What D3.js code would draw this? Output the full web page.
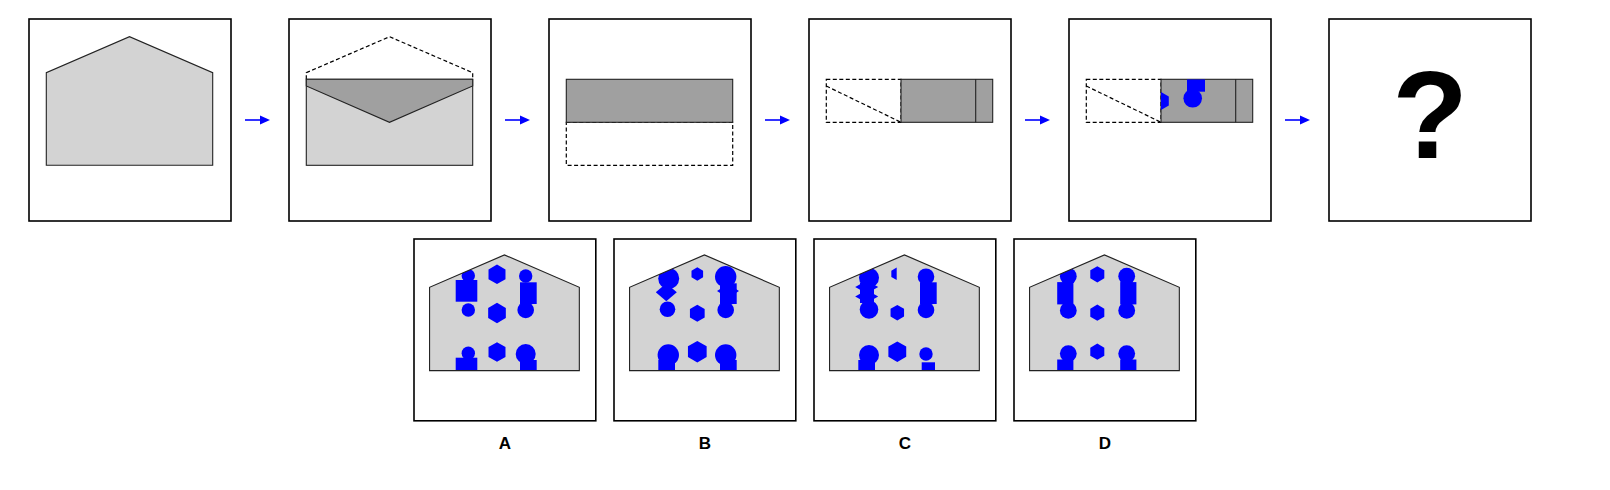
<!DOCTYPE html>
<html><head><meta charset="utf-8">
<script src="https://cdn.jsdelivr.net/npm/d3@7"></script>
<style>html,body{margin:0;padding:0;background:#fff}</style>
</head><body>
<svg id="c" width="1610" height="490"></svg>
<script>
// ---------- data (panel units: top panel box = 202 units) ----------
const steps = ["house", "open", "foldUp", "foldLeft", "cut", "question"];
const houseOutline = [[17.3,146.3],[17.3,53.7],[100.5,17.7],[183.7,53.7],[183.7,146.3]];
const roofDashed = [[17.3,60.3],[17.3,53.7],[100.5,17.7],[183.7,53.7],[183.7,60.3]];
const envelopeBody = [[17.3,60.3],[183.7,146.3]];
const envelopeFlap = [[17.3,60.3],[183.7,60.3],[183.7,67],[100.5,103.3],[17.3,67]];
const upperHalf = [[17.3,60.3],[183.7,103.3]];
const lowerHalf = [[17.3,103.3],[183.7,146.3]];
const leftPart = [[17.3,60.3],[92,103.3]];
const rightPart = [[92,60.3],[183.7,103.3]];
const leftDiagonal = [[17.3,67],[92,103.3]];
const foldEdgeX = [166.7];
const cutHexes = [{cx:92, cy:82, r:9}];
const cutCircles = [{cx:123.7, cy:79.3, r:9.3}];
const cutRects = [{x0:118, x1:136, y0:60.3, y1:72.7}];
const questionText = ["?"];

// ---------- answer options (option pixel units, box = 181.8) ----------
const options = ["A", "B", "C", "D"];
const optHexes = [
  {opt:"A", cx:83, cy:35.3, r:9.8}, {opt:"A", cx:83, cy:74, r:10.2}, {opt:"A", cx:83, cy:113, r:9.8},
  {opt:"B", cx:83.3, cy:35, r:6.7}, {opt:"B", cx:83.3, cy:74.3, r:8.5}, {opt:"B", cx:83.3, cy:112.7, r:10.8},
  {opt:"C", cx:82.7, cy:34.8, r:6.2, half:"left"}, {opt:"C", cx:83.3, cy:73.7, r:7.8}, {opt:"C", cx:83.3, cy:112.7, r:10.3},
  {opt:"D", cx:83.3, cy:35.3, r:8.1}, {opt:"D", cx:83.3, cy:73.7, r:8.1}, {opt:"D", cx:83.3, cy:112.7, r:8.1}
];
const optCircles = [
  {opt:"A", cx:54.3, cy:36.7, r:6.7}, {opt:"A", cx:54.3, cy:71, r:6.7}, {opt:"A", cx:54.3, cy:114.3, r:6.7},
  {opt:"A", cx:111.7, cy:37, r:6.7}, {opt:"A", cx:111.7, cy:71, r:8.3}, {opt:"A", cx:111.7, cy:115, r:10},
  {opt:"B", cx:54.7, cy:39.5, r:10.5}, {opt:"B", cx:53.5, cy:70.3, r:7.8}, {opt:"B", cx:54.3, cy:116, r:10.7},
  {opt:"B", cx:111.7, cy:37.7, r:10.7}, {opt:"B", cx:111.7, cy:71, r:8.3}, {opt:"B", cx:111.7, cy:116, r:10.7},
  {opt:"C", cx:55, cy:38.7, r:10}, {opt:"C", cx:55, cy:70.5, r:9.3}, {opt:"C", cx:55, cy:116, r:10},
  {opt:"C", cx:112, cy:37.7, r:8.3}, {opt:"C", cx:112, cy:71, r:8.3}, {opt:"C", cx:112, cy:115, r:6.7},
  {opt:"D", cx:54.3, cy:37.2, r:8.4}, {opt:"D", cx:54.3, cy:71.4, r:8.4}, {opt:"D", cx:54.3, cy:114.6, r:8.4},
  {opt:"D", cx:112.7, cy:37.2, r:8.4}, {opt:"D", cx:112.7, cy:71.4, r:8.4}, {opt:"D", cx:112.7, cy:114.6, r:8.4}
];
const optRects = [
  {opt:"A", x0:41.7, x1:63.3, y0:41, y1:62.7}, {opt:"A", x0:41.7, x1:63.3, y0:118.7, y1:132},
  {opt:"A", x0:106, x1:122.7, y0:43.3, y1:65}, {opt:"A", x0:106, x1:122.7, y0:121, y1:132},
  {opt:"B", x0:106, x1:122.7, y0:44.3, y1:65}, {opt:"B", x0:44.3, x1:61, y0:121, y1:132},
  {opt:"B", x0:106, x1:122.7, y0:121, y1:132},
  {opt:"C", x0:46, x1:60, y0:44, y1:64}, {opt:"C", x0:106, x1:122.7, y0:43.3, y1:65},
  {opt:"C", x0:44.3, x1:61, y0:121, y1:132}, {opt:"C", x0:107.7, x1:121, y0:123.3, y1:132},
  {opt:"D", x0:43.2, x1:59.4, y0:43.1, y1:65.4}, {opt:"D", x0:106.2, x1:122.4, y0:43.1, y1:65.4},
  {opt:"D", x0:43.2, x1:59.4, y0:120.5, y1:132}, {opt:"D", x0:106.2, x1:122.4, y0:120.5, y1:132}
];
const optDiamonds = [
  {opt:"B", cx:52.3, cy:53.3, hx:10.5, hy:9}, {opt:"B", cx:114, cy:52, hx:11, hy:7},
  {opt:"C", cx:52.7, cy:48, hx:11.5, hy:6.5}, {opt:"C", cx:52.7, cy:57.5, hx:11.5, hy:6.5}
];

// ---------- styles ----------
const LIGHT = "#d3d3d3", DARK = "#a0a0a0", BLUE = "#0000ff", LINE = "#222";
const DASH = "4,2.5";
const FONT = "'Liberation Sans', Arial, Helvetica, sans-serif";

const svg = d3.select("#c");
svg.append("rect").attr("width",1610).attr("height",490).attr("fill","#fff");

const stepX = d3.scaleLinear().domain([0, steps.length - 1]).range([29, 29 + 260 * (steps.length - 1)]);
const optX = d3.scaleLinear().domain([0, options.length - 1]).range([414, 414 + 200 * (options.length - 1)]);
const TOP_Y = 19, TOP_SIZE = 202, OPT_Y = 239, OPT_SIZE = 181.8;

const line = d3.line();
function hexPath(h, sx, sy) {
  let idx = h.half === "left" ? [0, 5, 4, 3] : [0,1,2,3,4,5];
  const pts = idx.map(k => {
    const a = (-90 + 60 * k) * Math.PI / 180;
    return [sx(h.cx + h.r * Math.cos(a)), sy(h.cy + h.r * Math.sin(a))];
  });
  return line(pts) + "Z";
}
function diamondPath(d, sx, sy) {
  return line([[sx(d.cx), sy(d.cy - d.hy)], [sx(d.cx + d.hx), sy(d.cy)], [sx(d.cx), sy(d.cy + d.hy)], [sx(d.cx - d.hx), sy(d.cy)]]) + "Z";
}
function rectFrom(g, corners, sx, sy) {
  return g.append("rect")
    .attr("x", sx(corners[0][0])).attr("y", sy(corners[0][1]))
    .attr("width", sx(corners[1][0]) - sx(corners[0][0]))
    .attr("height", sy(corners[1][1]) - sy(corners[0][1]));
}
const defs = svg.append("defs");

// ---------- top row ----------
steps.forEach((step, i) => {
  const x0 = stepX(i);
  const sx = d3.scaleLinear().domain([0, TOP_SIZE]).range([x0, x0 + TOP_SIZE]);
  const sy = d3.scaleLinear().domain([0, TOP_SIZE]).range([TOP_Y, TOP_Y + TOP_SIZE]);
  const g = svg.append("g");
  g.append("rect").attr("x", sx(0)).attr("y", sy(0)).attr("width", TOP_SIZE).attr("height", TOP_SIZE)
    .attr("fill", "#fff").attr("stroke", "#000").attr("stroke-width", 1.6);
  const toPts = arr => arr.map(p => [sx(p[0]), sy(p[1])]);

  if (step === "house") {
    g.append("path").attr("d", line(toPts(houseOutline)) + "Z").attr("fill", LIGHT).attr("stroke", LINE).attr("stroke-width", 1.1);
  } else if (step === "open") {
    g.append("path").attr("d", line(toPts(roofDashed))).attr("fill", "none").attr("stroke", "#000").attr("stroke-width", 1.2).attr("stroke-dasharray", DASH);
    rectFrom(g, envelopeBody, sx, sy).attr("fill", LIGHT).attr("stroke", LINE).attr("stroke-width", 1.1);
    g.append("path").attr("d", line(toPts(envelopeFlap)) + "Z").attr("fill", DARK).attr("stroke", LINE).attr("stroke-width", 1.1);
  } else if (step === "foldUp") {
    rectFrom(g, lowerHalf, sx, sy).attr("fill", "#fff").attr("stroke", "#000").attr("stroke-width", 1.2).attr("stroke-dasharray", DASH);
    rectFrom(g, upperHalf, sx, sy).attr("fill", DARK).attr("stroke", LINE).attr("stroke-width", 1.1);
  } else if (step === "foldLeft" || step === "cut") {
    rectFrom(g, leftPart, sx, sy).attr("fill", "#fff").attr("stroke", "#000").attr("stroke-width", 1.2).attr("stroke-dasharray", DASH);
    g.append("path").attr("d", line(toPts(leftDiagonal))).attr("stroke", "#000").attr("stroke-width", 1.2).attr("stroke-dasharray", DASH).attr("fill", "none");
    rectFrom(g, rightPart, sx, sy).attr("fill", DARK).attr("stroke", LINE).attr("stroke-width", 1.1);
    if (step === "cut") {
      const cid = "clipcut";
      rectFrom(defs.append("clipPath").attr("id", cid), rightPart, sx, sy);
      const cg = g.append("g").attr("clip-path", `url(#${cid})`);
      cg.selectAll("path.hx").data(cutHexes).join("path").attr("d", d => hexPath(d, sx, sy)).attr("fill", BLUE);
      cg.selectAll("circle").data(cutCircles).join("circle")
        .attr("cx", d => sx(d.cx)).attr("cy", d => sy(d.cy)).attr("r", d => d.r).attr("fill", BLUE);
      cg.selectAll("rect").data(cutRects).join("rect")
        .attr("x", d => sx(d.x0)).attr("y", d => sy(d.y0)).attr("width", d => sx(d.x1) - sx(d.x0))
        .attr("height", d => sy(d.y1) - sy(d.y0)).attr("fill", BLUE);
    }
    g.selectAll("line.edge").data(foldEdgeX).join("line").attr("class", "edge")
      .attr("x1", d => sx(d)).attr("x2", d => sx(d)).attr("y1", sy(rightPart[0][1])).attr("y2", sy(rightPart[1][1]))
      .attr("stroke", LINE).attr("stroke-width", 1.1);
  } else if (step === "question") {
    g.selectAll("text").data(questionText).join("text")
      .attr("x", sx(101)).attr("y", sy(138.7)).attr("text-anchor", "middle")
      .attr("font-family", FONT).attr("font-weight", "bold").attr("font-size", 124).attr("fill", "#000")
      .text(d => d);
  }

  // arrow to next panel
  if (i < steps.length - 1) {
    const ax = x0 + TOP_SIZE + 14, ay = sy(101);
    svg.append("line").attr("x1", ax).attr("x2", ax + 17).attr("y1", ay).attr("y2", ay)
      .attr("stroke", BLUE).attr("stroke-width", 1.6);
    svg.append("path").attr("d", line([[ax + 15, ay - 4.5], [ax + 25, ay], [ax + 15, ay + 4.5]]) + "Z").attr("fill", BLUE);
  }
});

// ---------- options row ----------
options.forEach((opt, j) => {
  const x0 = optX(j);
  const ux = d3.scaleLinear().domain([0, TOP_SIZE]).range([x0, x0 + OPT_SIZE]);
  const uy = d3.scaleLinear().domain([0, TOP_SIZE]).range([OPT_Y, OPT_Y + OPT_SIZE]);
  const px = d3.scaleLinear().domain([0, OPT_SIZE]).range([x0, x0 + OPT_SIZE]);
  const py = d3.scaleLinear().domain([0, OPT_SIZE]).range([OPT_Y, OPT_Y + OPT_SIZE]);
  const g = svg.append("g");
  g.append("rect").attr("x", x0).attr("y", OPT_Y).attr("width", OPT_SIZE).attr("height", OPT_SIZE)
    .attr("fill", "#fff").attr("stroke", "#000").attr("stroke-width", 1.6);
  const housePts = houseOutline.map(p => [ux(p[0]), uy(p[1])]);
  const cid = "clip" + opt;
  defs.append("clipPath").attr("id", cid).append("path").attr("d", line(housePts) + "Z");
  g.append("path").attr("d", line(housePts) + "Z").attr("fill", LIGHT);
  const cg = g.append("g").attr("clip-path", `url(#${cid})`);
  cg.selectAll("rect").data(optRects.filter(d => d.opt === opt)).join("rect")
    .attr("x", d => px(d.x0)).attr("y", d => py(d.y0)).attr("width", d => px(d.x1) - px(d.x0))
    .attr("height", d => py(d.y1) - py(d.y0)).attr("fill", BLUE);
  cg.selectAll("path.dm").data(optDiamonds.filter(d => d.opt === opt)).join("path").attr("class", "dm")
    .attr("d", d => diamondPath(d, px, py)).attr("fill", BLUE);
  cg.selectAll("path.hx").data(optHexes.filter(d => d.opt === opt)).join("path").attr("class", "hx")
    .attr("d", d => hexPath(d, px, py)).attr("fill", BLUE);
  cg.selectAll("circle").data(optCircles.filter(d => d.opt === opt)).join("circle")
    .attr("cx", d => px(d.cx)).attr("cy", d => py(d.cy)).attr("r", d => d.r).attr("fill", BLUE);
  g.append("path").attr("d", line(housePts) + "Z").attr("fill", "none").attr("stroke", LINE).attr("stroke-width", 1.1);
  g.append("text").attr("x", x0 + OPT_SIZE / 2).attr("y", 449).attr("text-anchor", "middle")
    .attr("font-family", FONT).attr("font-weight", "bold").attr("font-size", 17).attr("fill", "#000").text(opt);
});
</script>
</body></html>
